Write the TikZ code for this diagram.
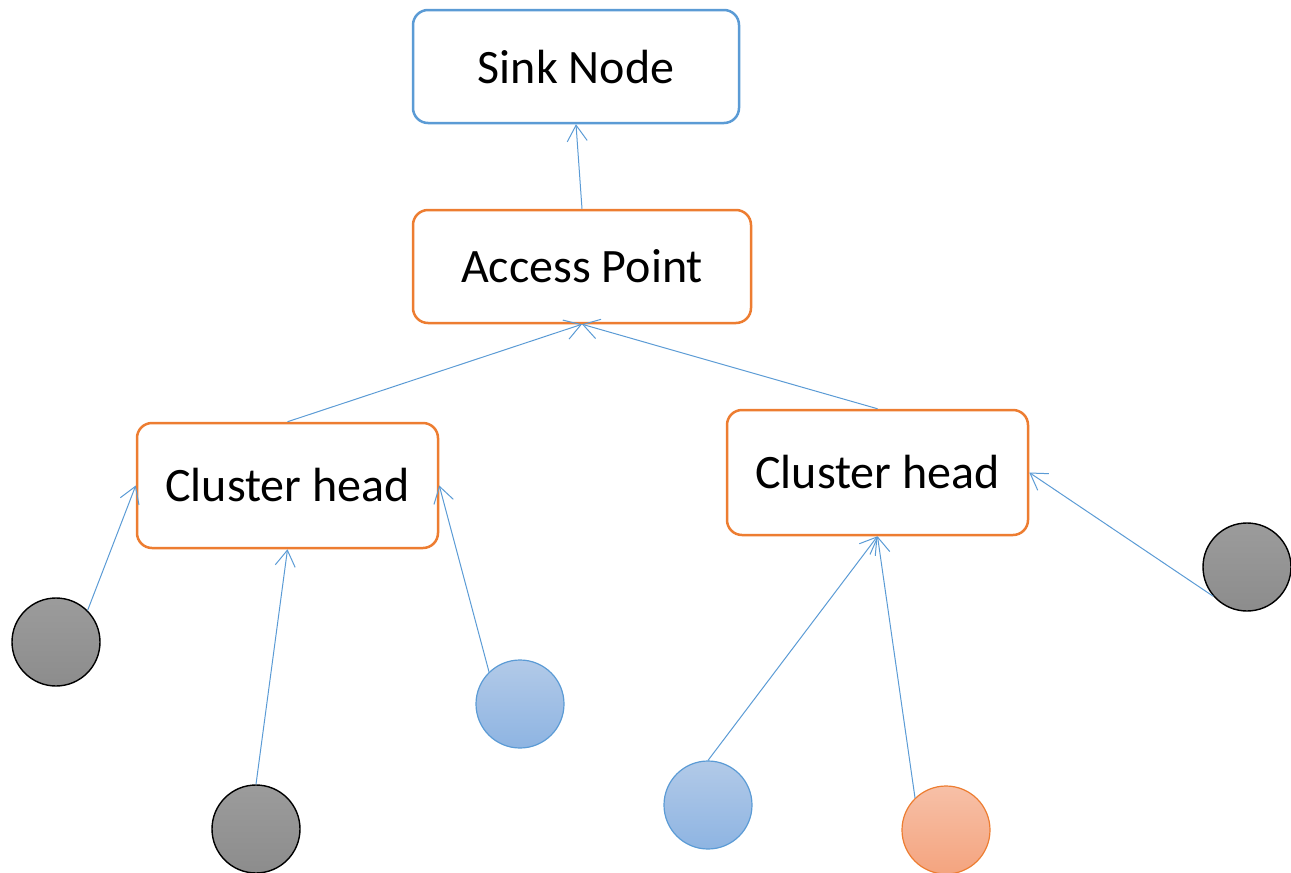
\documentclass[tikz,border=0pt]{standalone}
\usepackage{fontspec}
\setmainfont{Carlito}
\usetikzlibrary{arrows.meta}
\definecolor{accblue}{HTML}{5B9BD5}
\definecolor{accorange}{HTML}{ED7D31}
\tikzset{
  box/.style={draw, rounded corners=15pt, line width=2.5pt, fill=white, inner sep=0pt,
              font=\fontsize{48}{57}\selectfont},
  bluebox/.style={box, draw=accblue},
  orangebox/.style={box, draw=accorange},
  sensor/.style={circle, minimum size=88pt, inner sep=0pt},
  graysensor/.style={sensor, draw=black, line width=1.4pt, top color=gray!78, bottom color=gray!110!black},
  bluesensor/.style={sensor, draw=accblue, line width=1.2pt, top color={rgb,255:red,178;green,202;blue,232}, bottom color={rgb,255:red,142;green,180;blue,226}},
  orangesensor/.style={sensor, draw=accorange, line width=1.2pt, top color={rgb,255:red,247;green,192;blue,167}, bottom color={rgb,255:red,244;green,164;blue,127}},
  link/.style={draw=accblue, line width=1pt, -{Straight Barb[length=16pt,width=20pt]}}
}
\begin{document}
\begin{tikzpicture}[x=1pt, y=-1pt]
  \useasboundingbox (0,0) rectangle (1291,873);

  % hierarchy boxes
  \node[bluebox, minimum width=326pt, minimum height=113pt] (sink) at (576,66.5) {Sink Node};
  \node[orangebox, minimum width=338pt, minimum height=113pt] (ap) at (582,266.5) {Access Point};
  \node[orangebox, minimum width=301pt, minimum height=125pt] (chl) at (287.5,485.5) {Cluster head};
  \node[orangebox, minimum width=301pt, minimum height=125pt] (chr) at (877.5,472.5) {Cluster head};

  % sensor nodes
  \node[graysensor] (g1) at (56,642) {};
  \node[graysensor] (g2) at (256,829) {};
  \node[bluesensor] (b1) at (520,704) {};
  \node[bluesensor] (b2) at (708,805) {};
  \node[orangesensor] (o1) at (946,830) {};
  \node[graysensor] (g3) at (1247,567) {};

  % links
  \draw[link] (ap.north) -- (sink.south);
  \draw[link] (chl.north) -- (ap.south);
  \draw[link] (chr.north) -- (ap.south);
  \draw[link] (g1.45) -- (chl.west);
  \draw[link] (g2.north) -- (chl.south);
  \draw[link] (b1.134) -- (chl.east);
  \draw[link] (b2.north) -- (chr.south);
  \draw[link] (o1.134) -- (chr.south);
  \draw[link] (g3.221) -- (chr.east);
\end{tikzpicture}
\end{document}
